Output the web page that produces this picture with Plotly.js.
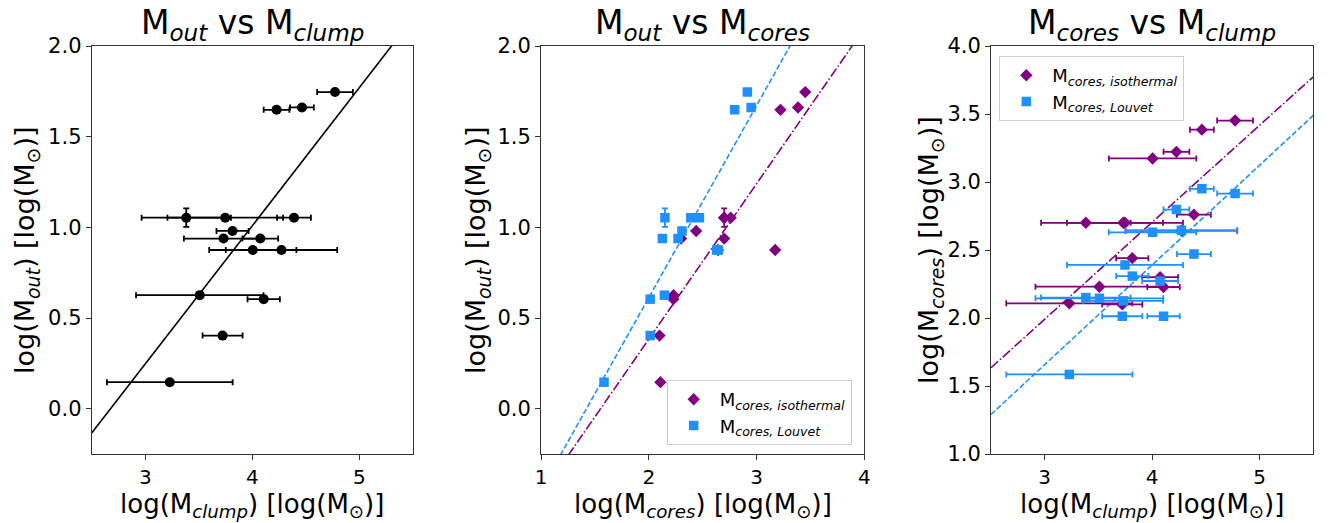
<!DOCTYPE html>
<html><head><meta charset="utf-8">
<script src="https://cdn.plot.ly/plotly-3.0.1.min.js"></script>
<style>html,body{margin:0;padding:0;background:#fff}</style>
</head><body><div id="chart" style="width:1333px;height:523px"></div>
<script>
// ---- data ----
const mClump      = [4.772, 4.463, 4.226, 3.383, 3.747, 4.389, 3.815, 3.731, 4.074, 4.004, 4.272, 3.509, 4.106, 3.722, 3.229];
const mClumpErr   = [0.167, 0.111, 0.120, 0.417, 0.540, 0.158, 0.150, 0.370, 0.167, 0.407, 0.520, 0.595, 0.151, 0.187, 0.587];
const mOut        = [1.746, 1.661, 1.648, 1.053, 1.053, 1.053, 0.980, 0.938, 0.938, 0.875, 0.875, 0.626, 0.604, 0.403, 0.146];
const mOutErr     = [0, 0, 0, 0.051, 0, 0, 0, 0, 0, 0, 0, 0, 0, 0, 0];
const mCoresIso   = [3.452, 3.385, 3.222, 2.700, 2.700, 2.760, 2.440, 2.700, 2.300, 3.173, 2.642, 2.230, 2.228, 2.100, 2.108];
const mCoresLouv  = [2.915, 2.950, 2.797, 2.150, 2.390, 2.470, 2.308, 2.126, 2.272, 2.630, 2.645, 2.145, 2.013, 2.013, 1.585];

// fitted relations (slope, intercept)
const fitOutClump   = [0.7625, -2.041];
const fitOutIso     = [0.857, -1.331];
const fitOutLouv    = [1.059, -1.506];
const fitIsoClump   = [0.713, -0.148];
const fitLouvClump  = [0.733, -0.542];

const rangeClump = [2.5, 5.5];
const rangeCores = [1, 4];
const rangeOut   = [-0.25, 2.0];
const rangeCoresY = [1.0, 4.0];

const xTicksClump = [3, 4, 5];
const xTicksCores = [1, 2, 3, 4];
const yTicksOut   = [0, 0.5, 1.0, 1.5, 2.0];
const yTicksCores = [1.0, 1.5, 2.0, 2.5, 3.0, 3.5, 4.0];

const PURPLE = '#800080', BLUE = '#1E90FF';
const FONT = 'DejaVu Sans';

function fitLine(fit, xr){ return {x: xr, y: xr.map(v => fit[0]*v + fit[1])}; }

const W = 1333, H = 523;
const px = v => v / W, py = v => 1 - v / H;
const dom1 = [px(91.7), px(413)], dom2 = [px(541), px(864.3)], dom3 = [px(991), px(1313.3)];
const domY = [py(454), py(46)];

const l1 = fitLine(fitOutClump, rangeClump);
const l2a = fitLine(fitOutIso, rangeCores);
const l2b = fitLine(fitOutLouv, rangeCores);
const l3a = fitLine(fitIsoClump, rangeClump);
const l3b = fitLine(fitLouvClump, rangeClump);

const isoName = 'M<sub><i>cores, isothermal</i></sub>';
const louName = 'M<sub><i>cores, Louvet</i></sub>';
const EW = 1.8;

const traces = [
  // panel 1
  {x: l1.x, y: l1.y, mode: 'lines', line: {color: '#000', width: 1.6}, xaxis: 'x', yaxis: 'y', showlegend: false, hoverinfo: 'skip'},
  {x: mClump, y: mOut, mode: 'markers', marker: {color: '#000', size: 10, symbol: 'circle'},
   error_x: {type: 'data', array: mClumpErr, color: '#000', thickness: EW, width: 3},
   error_y: {type: 'data', array: mOutErr, color: '#000', thickness: EW, width: 3},
   xaxis: 'x', yaxis: 'y', showlegend: false},
  // panel 2
  {x: l2a.x, y: l2a.y, mode: 'lines', line: {color: PURPLE, width: 1.6, dash: '9.6px,2.4px,1.5px,2.4px'}, xaxis: 'x2', yaxis: 'y2', showlegend: false, hoverinfo: 'skip'},
  {x: l2b.x, y: l2b.y, mode: 'lines', line: {color: BLUE, width: 1.6, dash: '5.5px,2.4px'}, xaxis: 'x2', yaxis: 'y2', showlegend: false, hoverinfo: 'skip'},
  {x: mCoresIso, y: mOut, mode: 'markers', name: isoName, marker: {color: PURPLE, size: 9.5, symbol: 'diamond'},
   error_y: {type: 'data', array: mOutErr, color: PURPLE, thickness: EW, width: 3},
   xaxis: 'x2', yaxis: 'y2', legend: 'legend'},
  {x: mCoresLouv, y: mOut, mode: 'markers', name: louName, marker: {color: BLUE, size: 9.5, symbol: 'square'},
   error_y: {type: 'data', array: mOutErr, color: BLUE, thickness: EW, width: 3},
   xaxis: 'x2', yaxis: 'y2', legend: 'legend'},
  // panel 3
  {x: l3a.x, y: l3a.y, mode: 'lines', line: {color: PURPLE, width: 1.6, dash: '9.6px,2.4px,1.5px,2.4px'}, xaxis: 'x3', yaxis: 'y3', showlegend: false, hoverinfo: 'skip'},
  {x: l3b.x, y: l3b.y, mode: 'lines', line: {color: BLUE, width: 1.6, dash: '5.5px,2.4px'}, xaxis: 'x3', yaxis: 'y3', showlegend: false, hoverinfo: 'skip'},
  {x: mClump, y: mCoresIso, mode: 'markers', name: isoName, marker: {color: PURPLE, size: 9.5, symbol: 'diamond'},
   error_x: {type: 'data', array: mClumpErr, color: PURPLE, thickness: EW, width: 3},
   xaxis: 'x3', yaxis: 'y3', legend: 'legend2'},
  {x: mClump, y: mCoresLouv, mode: 'markers', name: louName, marker: {color: BLUE, size: 9.5, symbol: 'square'},
   error_x: {type: 'data', array: mClumpErr, color: BLUE, thickness: EW, width: 3},
   xaxis: 'x3', yaxis: 'y3', legend: 'legend2'}
];

function ax(extra){
  return Object.assign({
    showgrid: false, zeroline: false, showline: true, mirror: true,
    linecolor: '#333', linewidth: 1, ticks: 'outside', ticklen: 5, tickwidth: 1, tickcolor: '#333',
    tickfont: {family: FONT, size: 20, color: '#000'}, tickmode: 'array', automargin: false, fixedrange: true
  }, extra);
}

const ann = [];
function addTitle(text, x){
  ann.push({text: text, x: x, y: py(24), xref: 'paper', yref: 'paper', xanchor: 'center', yanchor: 'middle',
            showarrow: false, font: {family: FONT, size: 33, color: '#000'}});
}
function addXT(text, x){
  ann.push({text: text, x: x, y: py(505), xref: 'paper', yref: 'paper', xanchor: 'center', yanchor: 'middle',
            showarrow: false, font: {family: FONT, size: 26, color: '#000'}});
}
function addYT(text, x){
  ann.push({text: text, x: px(x), y: py(250), xref: 'paper', yref: 'paper', xanchor: 'center', yanchor: 'middle',
            textangle: -90, showarrow: false, font: {family: FONT, size: 27, color: '#000'}});
}
const c1 = (dom1[0]+dom1[1])/2, c2 = (dom2[0]+dom2[1])/2, c3 = (dom3[0]+dom3[1])/2;
addTitle('M<sub><i>out</i></sub> vs M<sub><i>clump</i></sub>', c1);
addTitle('M<sub><i>out</i></sub> vs M<sub><i>cores</i></sub>', c2);
addTitle('M<sub><i>cores</i></sub> vs M<sub><i>clump</i></sub>', c3);
addXT('log(M<sub><i>clump</i></sub>) [log(M<sub>⊙</sub>)]', c1);
addXT('log(M<sub><i>cores</i></sub>) [log(M<sub>⊙</sub>)]', c2);
addXT('log(M<sub><i>clump</i></sub>) [log(M<sub>⊙</sub>)]', c3);
addYT('log(M<sub><i>out</i></sub>) [log(M<sub>⊙</sub>)]', 26);
addYT('log(M<sub><i>out</i></sub>) [log(M<sub>⊙</sub>)]', 477);
addYT('log(M<sub><i>cores</i></sub>) [log(M<sub>⊙</sub>)]', 930);

const legendStyle = {
  bgcolor: 'rgba(255,255,255,0.8)', bordercolor: '#ccc', borderwidth: 1,
  font: {family: FONT, size: 18, color: '#000'}, xanchor: 'left', yanchor: 'top', itemwidth: 42
};

const layout = {
  width: W, height: H, margin: {l: 0, r: 0, t: 0, b: 0},
  paper_bgcolor: '#fff', plot_bgcolor: '#fff', showlegend: true,
  xaxis:  ax({domain: dom1, range: rangeClump, tickvals: xTicksClump, ticktext: xTicksClump.map(String), anchor: 'y'}),
  yaxis:  ax({domain: domY, range: rangeOut, tickvals: yTicksOut, ticktext: yTicksOut.map(v => v.toFixed(1)), anchor: 'x', tickfont: {family: FONT, size: 21, color: '#000'}}),
  xaxis2: ax({domain: dom2, range: rangeCores, tickvals: xTicksCores, ticktext: xTicksCores.map(String), anchor: 'y2'}),
  yaxis2: ax({domain: domY, range: rangeOut, tickvals: yTicksOut, ticktext: yTicksOut.map(v => v.toFixed(1)), anchor: 'x2', tickfont: {family: FONT, size: 21, color: '#000'}}),
  xaxis3: ax({domain: dom3, range: rangeClump, tickvals: xTicksClump, ticktext: xTicksClump.map(String), anchor: 'y3'}),
  yaxis3: ax({domain: domY, range: rangeCoresY, tickvals: yTicksCores, ticktext: yTicksCores.map(v => v.toFixed(1)), anchor: 'x3', tickfont: {family: FONT, size: 21, color: '#000'}}),
  legend:  Object.assign({x: px(666.7), y: py(380)}, legendStyle),
  legend2: Object.assign({x: px(999.3), y: py(56)}, legendStyle),
  annotations: ann
};

Plotly.newPlot('chart', traces, layout, {displayModeBar: false, staticPlot: true});
</script>
</body></html>
